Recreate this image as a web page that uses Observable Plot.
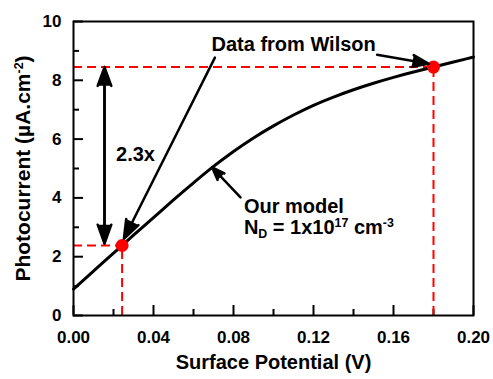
<!DOCTYPE html>
<html>
<head>
<meta charset="utf-8">
<script src="https://cdn.jsdelivr.net/npm/d3@7"></script>
<script src="https://cdn.jsdelivr.net/npm/@observablehq/plot@0.6"></script>
<style>
  body { margin: 0; background: #fff; }
</style>
</head>
<body>
<div id="chart"></div>
<script>
// Modelled photocurrent vs surface potential (N_D = 1e17 cm^-3)
const modelX = [0, 0.01, 0.02, 0.03, 0.04, 0.05, 0.06, 0.07, 0.08, 0.09, 0.10,
                0.11, 0.12, 0.13, 0.14, 0.15, 0.16, 0.17, 0.18, 0.19, 0.20];
const modelY = [0.9, 1.51, 2.12, 2.73, 3.33, 3.93, 4.51, 5.07, 5.58, 6.04, 6.45,
                6.82, 7.15, 7.43, 7.68, 7.90, 8.10, 8.28, 8.45, 8.62, 8.79];

// Measured points (Wilson)
const dataX = [0.0243, 0.18];
const dataY = [2.38, 8.45];

// Axis ticks
const xMajor = [0, 0.04, 0.08, 0.12, 0.16, 0.20];
const xMinor = [0.02, 0.06, 0.10, 0.14, 0.18];
const yMajor = [0, 2, 4, 6, 8, 10];
const yMinor = [1, 3, 5, 7, 9];

// Annotation arrows (tail -> head)
const arrowX1 = [0.0155, 0.0155, 0.0707, 0.1518, 0.0835];
const arrowY1 = [2.45, 8.45, 8.77, 8.87, 4.02];
const arrowX2 = [0.0155, 0.0155, 0.0252, 0.1777, 0.0693];
const arrowY2 = [8.45, 2.45, 2.61, 8.56, 5.04];

// Annotation labels
const noteText = ["Data from Wilson", "2.3x", "Our model", "N_{D} = 1x10^{17} cm^{-3}"];
const noteX = [0.069, 0.031, 0.0852, 0.0852];
const noteY = [9.23, 5.48, 3.72, 2.98];
const noteAnchor = ["start", "middle", "start", "start"];

const model = modelX.map((x, i) => ({x, y: modelY[i]}));
const points = dataX.map((x, i) => ({x, y: dataY[i]}));
const arrows = arrowX1.map((x1, i) => ({x1, y1: arrowY1[i], x2: arrowX2[i], y2: arrowY2[i]}));
const notes = noteText.map((t, i) => ({t, x: noteX[i], y: noteY[i], a: noteAnchor[i]}));

const red = "#ff0000";
const font = "'Liberation Sans', Arial, sans-serif";

const chart = Plot.plot({
  width: 493,
  height: 379,
  marginLeft: 73,
  marginRight: 20,
  marginTop: 21,
  marginBottom: 64,
  x: {domain: [0, 0.2]},
  y: {domain: [0, 10]},
  style: {fontFamily: font, fontWeight: "bold", background: "#fff", color: "#000", overflow: "visible"},
  marks: [
    // inward ticks
    Plot.axisX(xMajor, {tickSize: 10, dy: -10, tickFormat: () => "", label: null, strokeWidth: 2}),
    Plot.axisX(xMinor, {tickSize: 6, dy: -6, tickFormat: () => "", label: null, strokeWidth: 2}),
    Plot.axisY(yMajor, {tickSize: 10, dx: 10, tickFormat: () => "", label: null, strokeWidth: 2}),
    Plot.axisY(yMinor, {tickSize: 6, dx: 6, tickFormat: () => "", label: null, strokeWidth: 2}),
    // tick labels
    Plot.axisX(xMajor, {tickSize: 0, tickPadding: 15, tickFormat: d3.format(".2f"), label: null, fontSize: 17}),
    Plot.axisY(yMajor, {tickSize: 0, tickPadding: 12, tickFormat: d3.format("d"), label: null, fontSize: 17}),
    // axis titles
    Plot.text(["Surface Potential (V)"], {text: d => d, frameAnchor: "bottom", dy: 47, fontSize: 20, lineAnchor: "middle"}),
    Plot.text(["Photocurrent (µA.cm^{-2})"], {text: d => d, frameAnchor: "left", dx: -50, rotate: -90,
      textAnchor: "middle", fontSize: 21, lineAnchor: "middle"}),
    // red guide lines
    Plot.ruleY(points, {y: "y", x1: 0, x2: "x", stroke: red, strokeWidth: 2, strokeDasharray: "9,5"}),
    Plot.ruleX(points, {x: "x", y1: 0, y2: "y", stroke: red, strokeWidth: 2, strokeDasharray: "9,5"}),
    // model curve
    Plot.line(model, {x: "x", y: "y", curve: "natural", stroke: "#000", strokeWidth: 3}),
    // data points
    Plot.dot(points, {x: "x", y: "y", r: 6.5, fill: red, stroke: "none"}),
    // arrows
    Plot.arrow(arrows, {x1: "x1", y1: "y1", x2: "x2", y2: "y2", stroke: "#000",
      strokeWidth: 2.5, headLength: 12, headAngle: 40, strokeLinejoin: "miter"}),
    // notes
    Plot.text(notes, {filter: d => d.a === "start", x: "x", y: "y", text: "t", textAnchor: "start", fontSize: 20, lineAnchor: "middle"}),
    Plot.text(notes, {filter: d => d.a === "middle", x: "x", y: "y", text: "t", textAnchor: "middle", fontSize: 20, lineAnchor: "middle"}),
    Plot.frame({stroke: "#000", strokeWidth: 2})
  ]
});

// Solid arrowheads
d3.select(chart).selectAll('g[aria-label="arrow"] path').attr("fill", "#000");

// Render _{sub} and ^{sup} markup as tspans
const svgNS = "http://www.w3.org/2000/svg";
d3.select(chart).selectAll("text").each(function () {
  const s = this.textContent;
  if (!/[_^]\{/.test(s)) return;
  const size = parseFloat(getComputedStyle(this).fontSize) || 20;
  this.textContent = "";
  for (const part of s.split(/([_^]\{[^}]*\})/)) {
    if (!part) continue;
    const m = part.match(/^([_^])\{(.*)\}$/);
    const t = document.createElementNS(svgNS, "tspan");
    if (m) {
      t.textContent = m[2];
      t.setAttribute("font-size", size * 0.62);
      t.setAttribute("baseline-shift", m[1] === "^" ? size * 0.36 : -size * 0.22);
    } else {
      t.textContent = part;
    }
    this.appendChild(t);
  }
});

document.getElementById("chart").appendChild(chart);
</script>
</body>
</html>
